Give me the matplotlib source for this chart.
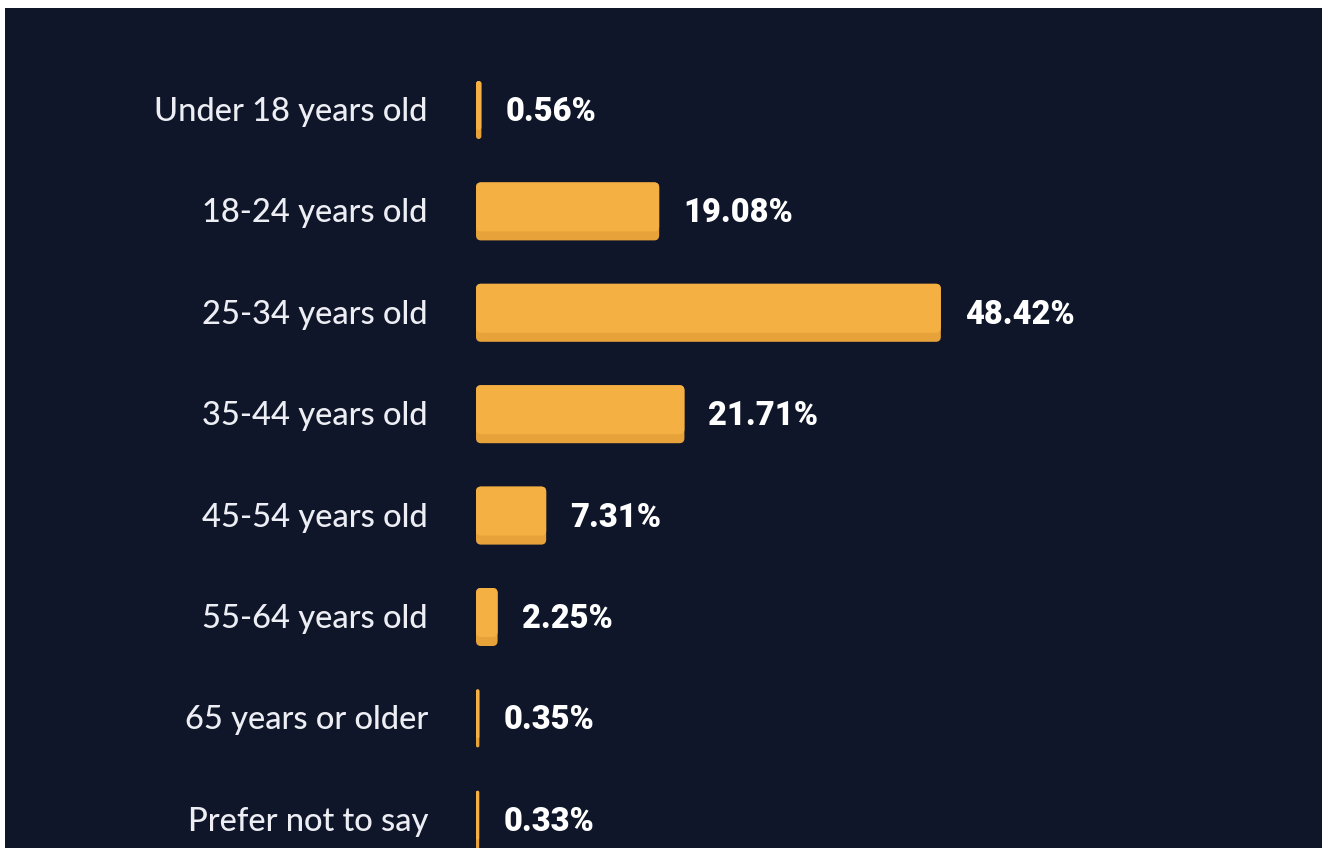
import matplotlib
matplotlib.use("Agg")
import matplotlib.pyplot as plt
from matplotlib.patches import FancyBboxPatch, Rectangle

categories = ["Under 18 years old", "18-24 years old", "25-34 years old", "35-44 years old",
              "45-54 years old", "55-64 years old", "65 years or older", "Prefer not to say"]
values = [0.56, 19.08, 48.42, 21.71, 7.31, 2.25, 0.35, 0.33]
value_labels = ["0.56%", "19.08%", "48.42%", "21.71%", "7.31%", "2.25%", "0.35%", "0.33%"]

BG = "#10162a"
BAR = "#f4b042"
BAR_DARK = "#e7a23a"
TXT = "#eceef3"

W, H = 1322, 848
fig = plt.figure(figsize=(W / 100, H / 100), dpi=100)
fig.patch.set_facecolor("white")
fig.patches.append(Rectangle((5 / W, 0), 1 - 5 / W, (H - 8) / H, transform=fig.transFigure,
                             facecolor=BG, edgecolor="none", zorder=-10))

pxx = 9.6          # pixels per percent
x0 = 476           # pixel of zero
row = 101.4        # pixels per row
first = 110        # pixel center of first row

ax = fig.add_axes([x0 / W, 0, 1 - x0 / W, 1])
ax.set_zorder(5)
ax.set_xlim(0, (W - x0) / pxx)
ax.set_ylim((H - first) / row, -first / row)
ax.axis("off")

h = 58 / row
strip = 9 / row
aspect = (1 / row) / (1 / pxx)
for i, (cat, v, lab) in enumerate(zip(categories, values, value_labels)):
    r = min(5 / pxx, v / 2)
    ax.add_patch(FancyBboxPatch((0, i - h / 2), v, h,
                                boxstyle=f"round,pad=0,rounding_size={r}",
                                mutation_aspect=aspect, facecolor=BAR_DARK,
                                edgecolor="none", clip_on=False))
    ax.add_patch(FancyBboxPatch((0, i - h / 2), v, h - strip,
                                boxstyle=f"round,pad=0,rounding_size={r}",
                                mutation_aspect=aspect, facecolor=BAR,
                                edgecolor="none", clip_on=False))
    ax.text(-48 / pxx, i + 2 / row, cat, ha="right", va="center", color=TXT,
            fontsize=23.5, family="Lato", fontweight="medium", clip_on=False)
    ax.text(v + 24 / pxx, i + 2 / row, lab, ha="left", va="center", color="white",
            fontsize=23.5, fontweight="black", family="Roboto", clip_on=False)

fig.savefig("out.png", dpi=100, facecolor=fig.get_facecolor())
